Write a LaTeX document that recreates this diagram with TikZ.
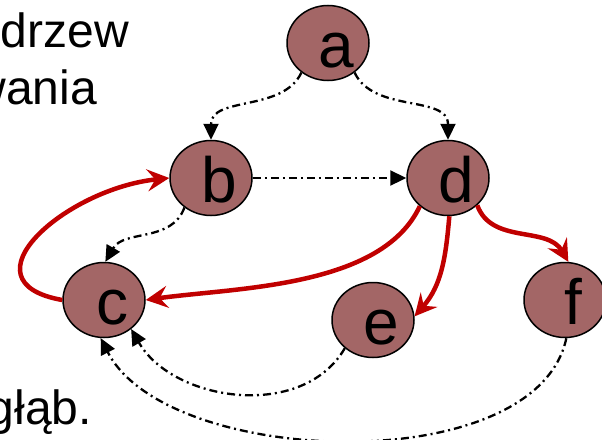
\documentclass[tikz,border=0pt]{standalone}
\usepackage{fontspec}
\setmainfont{Liberation Sans}
\usetikzlibrary{arrows.meta,shapes,positioning}
\definecolor{wezel}{RGB}{163,102,102}
\definecolor{czerwony}{RGB}{192,0,0}
\tikzset{
  wierzch/.style={ellipse, draw, line width=1.5pt, fill=wezel,
    minimum width=82pt, minimum height=75pt, inner sep=0pt,
    text height=48pt, text depth=0pt, font=\fontsize{64}{64}\selectfont,
    execute at begin node={\hspace*{16pt}}},
  krawedz/.style={line width=2.3pt, dash pattern=on 8pt off 4pt on 2pt off 4pt,
    -{Triangle[length=16pt,width=15pt]}},
  drzewo/.style={line width=4.5pt, draw=czerwony,
    -{Stealth[length=22pt,width=22pt,inset=8pt]}},
  napis/.style={anchor=base east, inner sep=0pt, font=\fontsize{48}{48}\selectfont}
}

\begin{document}
\begin{tikzpicture}[on grid, auto]
  \useasboundingbox (0,0) rectangle (602pt,-439pt);

  \node[napis] (t1) at (129pt,-47pt) {drzew};
  \node[napis] (t2) at (97pt,-104pt) {wania};
  \node[napis] (t3) at (92pt,-424pt) {głąb.};

  \node[wierzch] (a) at (328pt,-43pt) {a};
    \node[wierzch] (b) [below left = 135pt and 117pt of a] {b};
    \node[wierzch] (d) [right = 237pt of b] {d};
      \node[wierzch] (c) [below left = 122pt and 107pt of b] {c};
      \node[wierzch] (e) [below left = 142pt and 75pt of d] {e};
      \node[wierzch] (f) [below right = 122pt and 117pt of d] {f};

  \path (a.-132) edge [krawedz, out=-115, in=90] (b.north)
        (a.-48) edge [krawedz, out=-65, in=90] (d.north)
        (b) edge [krawedz] (d)
        (b.-132) edge [krawedz, out=-110, in=60] (c.88)
        (e.-135) edge [krawedz, out=-120, in=-60] (c.-47)
        (f.-88) edge [krawedz, out=-102, in=-63, looseness=0.8] (c.-95);

  \path (c.west) edge [drzewo, out=170, in=186, looseness=1.65] (b.west)
        (d.-135) edge [drzewo, out=-115, in=8, looseness=0.8] (c.east)
        (d.-88) edge [drzewo, out=-95, in=49] (e.5)
        (d.-43) edge [drzewo, out=-70, in=120] (f.85);
\end{tikzpicture}
\end{document}
